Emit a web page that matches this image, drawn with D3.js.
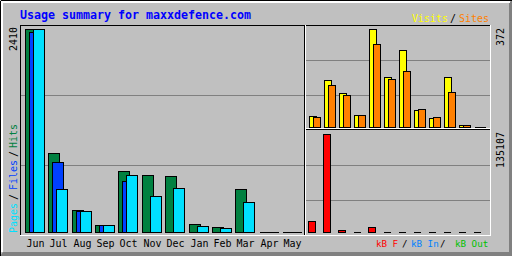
<!DOCTYPE html>
<html><head><meta charset="utf-8">
<script src="https://cdn.jsdelivr.net/npm/d3@7"></script>
<style>body{margin:0;background:#fff}svg{display:block}</style>
</head><body><svg id="c" width="512" height="256"></svg>
<script>
const title = "Usage summary for maxxdefence.com";
const months = ["Jun","Jul","Aug","Sep","Oct","Nov","Dec","Jan","Feb","Mar","Apr","May"];
const hits   = [2410, 934, 258, 80, 720, 673, 661, 91, 56, 507, 0, 0];
const files  = [2370, 827, 246, 80, 602, 0, 0, 0, 0, 0, 0, 0];
const pages  = [2410, 507, 246, 80, 673, 424, 519, 68, 44, 356, 0, 0];
const visits = [42, 178, 129, 45, 372, 190, 292, 64, 34, 190, 7, 0];
const sites  = [38, 159, 121, 45, 315, 182, 213, 68, 38, 133, 7, 0];
const kbF    = [15165, 135107, 2757, 0, 6893, 0, 0, 0, 0, 0, 0, 0];
const maxLabels = ["2410", "372", "135107"];

const GRAY = "#c0c0c0", DK = "#808080";
const svg = d3.select("#c");
const mono = "'DejaVu Sans Mono', 'Liberation Mono', monospace";

// background + bevel
svg.append("rect").attr("width",512).attr("height",256).attr("fill",GRAY);
svg.append("path").attr("d","M0,256 L512,256 L512,0 L509,3 L509,252 L3,252 Z").attr("fill",DK);
svg.append("path").attr("d","M0,0 H512 V1 H0 Z M0,0 V256 H1 V0 Z").attr("fill","#000");
svg.append("path").attr("d","M1,1 H510 V3 H3 V252 H1 Z").attr("fill","#fff");

function line(x1,y1,x2,y2,c){
  svg.append("line").attr("x1",x1).attr("y1",y1).attr("x2",x2).attr("y2",y2)
    .attr("stroke",c).attr("stroke-width",1).attr("shape-rendering","crispEdges");
}

// scales
const xL = d3.scalePoint().domain(months).range([25, 282]);
const yL = d3.scaleLinear().domain([0, 2410]).range([232, 29]);
const xR = d3.scalePoint().domain(months).range([309, 474]);
const yV = d3.scaleLinear().domain([0, 372]).range([127, 29]);
const xK = d3.scalePoint().domain(months).range([308, 473]);
const yK = d3.scaleLinear().domain([0, 135107]).range([232, 134]);

// gridlines
[95,165].forEach(y=>line(21,y+0.5,304,y+0.5,DK));
[60,95].forEach(y=>line(306,y+0.5,490,y+0.5,DK));
[165,200].forEach(y=>line(306,y+0.5,490,y+0.5,DK));

// panel frames
line(20,25.5,490,25.5,"#000");
line(20.5,25,20.5,235,"#000");
line(304.5,25,304.5,235,"#000");
line(305.5,25,305.5,236,"#fff");
line(20,235.5,491,235.5,"#fff");
line(490.5,25,490.5,236,"#fff");
line(306,128.5,490,128.5,"#fff");
line(306,129.5,490,129.5,"#000");

function bars(data, xs, ys, off, w, color, base){
  svg.append("g").selectAll("path").data(data).join("path")
    .attr("d",(d,i)=>{
      const x = Math.round(xs(months[i]))+off+0.5;
      const y = Math.round(ys(d))+0.5;
      const h = base - Math.round(ys(d));
      return `M${x},${y}h${w}v${h}h${-w}Z`;
    })
    .attr("fill",color).attr("stroke","#000").attr("stroke-width",1)
    .attr("shape-rendering","crispEdges");
}
bars(hits,  xL, yL, 0, 11, "#008040", 232);
bars(files, xL, yL, 4, 11, "#0040ff", 232);
bars(pages, xL, yL, 8, 11, "#00e0ff", 232);
bars(visits, xR, yV, 0, 7, "#ffff00", 127);
bars(sites,  xR, yV, 4, 7, "#ff8000", 127);
bars(kbF,    xK, yK, 0, 7, "#ff0000", 232);

// title
svg.append("text").attr("x",20).attr("y",19).attr("font-family",mono).attr("font-weight","bold")
  .attr("font-size",11.6).attr("fill","#0000ff").attr("textLength",231).attr("lengthAdjust","spacingAndGlyphs").text(title);

// month labels
svg.append("g").selectAll("text").data(months).join("text")
  .attr("x",d=>Math.round(xL(d))+10.5).attr("y",246.5).attr("text-anchor","middle")
  .attr("font-family",mono).attr("font-size",10).attr("fill","#000").text(d=>d);

// rotated labels
function up(x,y,t,c){
  svg.append("text").attr("transform",`translate(${x},${y}) rotate(-90)`)
    .attr("font-family",mono).attr("font-size",10).attr("fill",c).text(t);
}
up(17,51,maxLabels[0],"#000");
up(504,46,maxLabels[1],"#000");
up(504,168,maxLabels[2],"#000");
up(17,233,"Pages","#00e0ff");
up(17,200,"/","#000");
up(17,190,"Files","#0040ff");
up(17,157,"/","#000");
up(17,148,"Hits","#008040");

function txt(x,y,t,c,fs){
  svg.append("text").attr("x",x).attr("y",y).attr("font-family",mono).attr("font-size",fs||10).attr("fill",c).text(t);
}
txt(412,21.5,"Visits","#ffff00");
txt(450,21.5,"/","#000");
txt(459,21.5,"Sites","#ff8000");
txt(376,247,"kB F","#ff0000",9.2);
txt(402,247,"/","#000",9.2);
txt(411,247,"kB In","#0080ff",9.2);
txt(440,247,"/","#000",9.2);
txt(455,247,"kB Out","#00c000",9.2);
</script></body></html>
